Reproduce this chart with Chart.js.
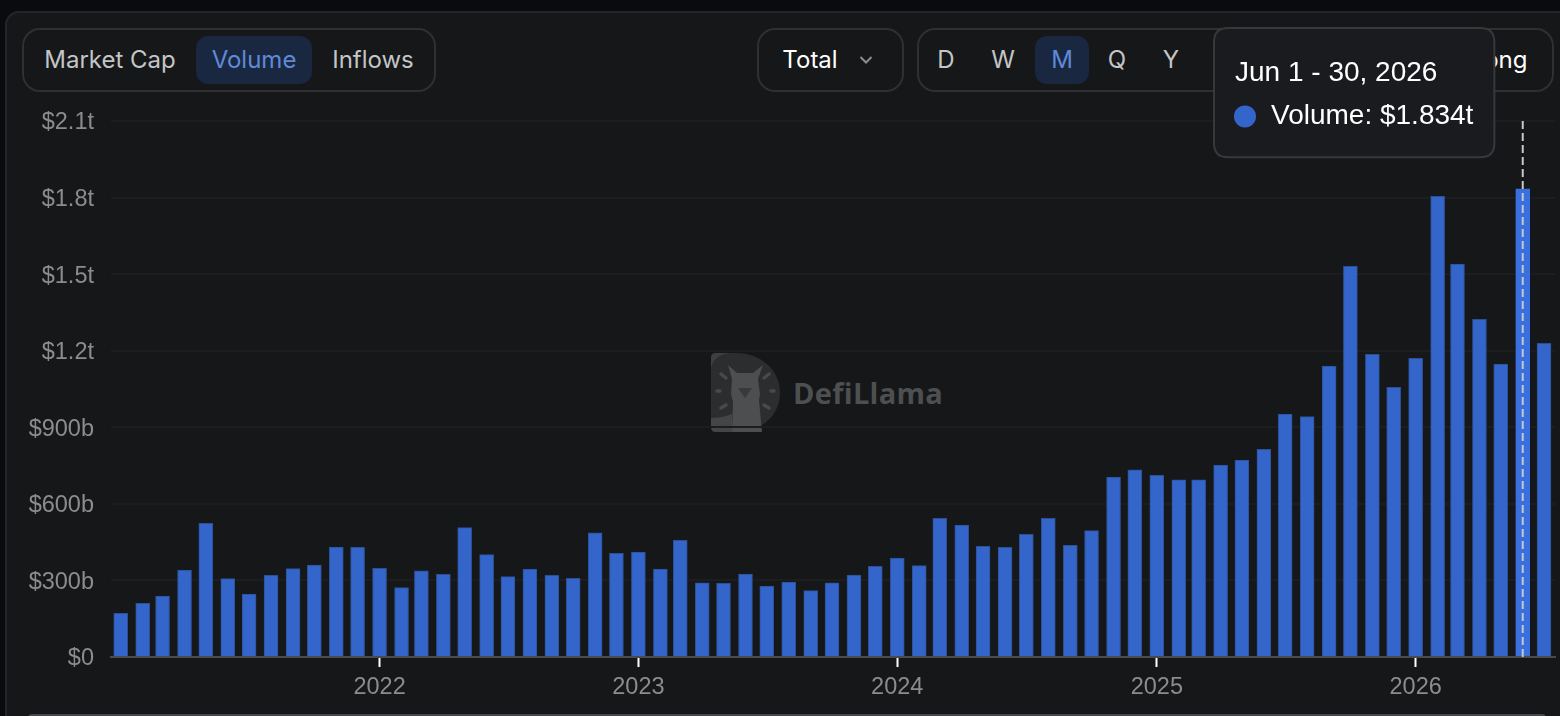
<!DOCTYPE html>
<html>
<head>
<meta charset="utf-8">
<title>Volume</title>
<script src="https://cdn.jsdelivr.net/npm/chart.js@4/dist/chart.umd.min.js"></script>
<style>
  html, body { margin: 0; padding: 0; background: #0a0b0e; }
  body { position: relative; width: 1560px; height: 716px; overflow: hidden; font-family: Inter, sans-serif; }
  .card { position: absolute; left: 5px; top: 11px; width: 1600px; height: 800px; background: #151719; border: 2px solid #232528; border-radius: 14px; box-sizing: border-box; }
  .footerEdge { position: absolute; left: 28px; top: 714px; width: 1518px; height: 4px; background: #45474a; border-radius: 4px 4px 0 0; }
  .box { position: absolute; top: 28px; height: 64px; border: 2px solid #2e3033; border-radius: 18px; box-sizing: border-box; }
  .pill { position: absolute; top: 36px; height: 48px; background: #1a2740; border-radius: 12px; }
  .lbl { position: absolute; top: 36px; height: 48px; line-height: 48px; font-size: 24px; color: #c4c5c6; transform: translateX(-50%); white-space: nowrap; }
  .lbl.on { color: #5f8ad8; }
  .lbl.strong { color: #ffffff; font-weight: 400; }
  .chev { position: absolute; left: 859px; top: 55px; }
  .mark { position: absolute; left: 710px; top: 352px; }
  .markText { position: absolute; left: 793px; top: 375px; font: 700 29px/36px "Open Sans", sans-serif; color: #4d4f51; letter-spacing: 0.3px; }
  canvas { position: absolute; left: 0; top: 0; }
</style>
</head>
<body>
  <div class="card"></div>
  <div class="footerEdge"></div>

  <div class="box" style="left:22px;width:414px"></div>
  <div class="pill" style="left:196px;width:116px"></div>
  <span class="lbl" style="left:110px">Market Cap</span>
  <span class="lbl on" style="left:254px">Volume</span>
  <span class="lbl" style="left:373px">Inflows</span>

  <div class="box" style="left:757px;width:147px"></div>
  <span class="lbl strong" style="left:810px">Total</span>
  <svg class="chev" width="14" height="10" viewBox="0 0 14 10"><path d="M1.5 2 L7 7.5 L12.5 2" fill="none" stroke="#8c8d8e" stroke-width="2"/></svg>

  <div class="box" style="left:917px;width:637px"></div>
  <div class="pill" style="left:1035px;width:54px"></div>
  <span class="lbl" style="left:946px">D</span>
  <span class="lbl" style="left:1003px">W</span>
  <span class="lbl on" style="left:1062px">M</span>
  <span class="lbl" style="left:1117px">Q</span>
  <span class="lbl" style="left:1171px">Y</span>
  <span class="lbl strong" style="left:1499px">Long</span>

  <svg class="mark" width="72" height="82" viewBox="0 0 72 82">
    <path d="M6 1 H26 C52 1 70 19 70 41 C70 63 52 80 26 80 H6 Q1 80 1 75 V6 Q1 1 6 1 Z" fill="#2b2d2f"/>
    <path d="M1 16 Q4 2 22 1 H6 Q1 1 1 6 Z" fill="#3d3f41"/>
    <path d="M1 66 Q12 66 22 62 V80 H6 Q1 80 1 75 Z" fill="#434547"/>
    <path d="M18 13 L27 21 H43 L53 13 L48 27 L50 42 L49 48 L52 80 H22 L23 50 L21 42 L22 27 Z" fill="#4c4e50"/>
    <path d="M28 36 H42 L35 46 Z" fill="#38393b"/>
    <g stroke="#48494b" stroke-width="3.5" stroke-linecap="round">
      <path d="M11 22 L16 26"/><path d="M59 22 L54 26"/>
      <path d="M7 39 H10"/><path d="M61 39 H64"/>
      <path d="M11 56 L16 53"/><path d="M59 56 L54 53"/>
    </g>
  </svg>
  <div class="markText">DefiLlama</div>

  <canvas id="graficoVolumen" width="1560" height="716"></canvas>

  <script>
    // volumen mensual en miles de millones, ene 2021 a jul 2026
    const meses = [
      "2021-01", "2021-02", "2021-03", "2021-04", "2021-05", "2021-06", "2021-07", "2021-08", "2021-09", "2021-10", "2021-11", "2021-12",
      "2022-01", "2022-02", "2022-03", "2022-04", "2022-05", "2022-06", "2022-07", "2022-08", "2022-09", "2022-10", "2022-11", "2022-12",
      "2023-01", "2023-02", "2023-03", "2023-04", "2023-05", "2023-06", "2023-07", "2023-08", "2023-09", "2023-10", "2023-11", "2023-12",
      "2024-01", "2024-02", "2024-03", "2024-04", "2024-05", "2024-06", "2024-07", "2024-08", "2024-09", "2024-10", "2024-11", "2024-12",
      "2025-01", "2025-02", "2025-03", "2025-04", "2025-05", "2025-06", "2025-07", "2025-08", "2025-09", "2025-10", "2025-11", "2025-12",
      "2026-01", "2026-02", "2026-03", "2026-04", "2026-05", "2026-06", "2026-07"
    ];
    const volumen = [
      171, 210, 239, 341, 524, 307, 247, 320, 346, 360, 431, 430,
      347, 272, 338, 324, 507, 401, 315, 344, 320, 308, 486, 406,
      411, 344, 457, 291, 289, 325, 278, 294, 260, 291, 321, 355,
      388, 358, 543, 517, 434, 430, 481, 543, 438, 495, 705, 733,
      712, 694, 694, 752, 772, 814, 952, 942, 1140, 1531, 1186, 1057,
      1170, 1805, 1539, 1323, 1148, 1834, 1229
    ];
    const etiquetasY = ["$0", "$300b", "$600b", "$900b", "$1.2t", "$1.5t", "$1.8t", "$2.1t"];
    const anios = [2022, 2023, 2024, 2025, 2026];
    const mesActivo = "2026-06";
    const tituloActivo = "Jun 1 - 30, 2026";

    const aFecha = (mes) => {
      const [anio, m] = mes.split("-").map(Number);
      return Date.UTC(anio, m - 1, 1);
    };
    const indiceActivo = meses.indexOf(mesActivo);

    // posición fija de la caja de detalle, arriba a la derecha
    Chart.Tooltip.positioners.fijo = () => ({ x: 1228, y: 28 });

    // línea punteada vertical sobre el mes activo
    const lineaActiva = {
      id: "lineaActiva",
      afterDatasetsDraw(chart) {
        const { ctx, chartArea, scales } = chart;
        const x = scales.x.getPixelForValue(aFecha(mesActivo));
        ctx.save();
        ctx.strokeStyle = "#c6c7c9";
        ctx.lineWidth = 2;
        ctx.setLineDash([8, 4]);
        ctx.beginPath();
        ctx.moveTo(x, chartArea.top);
        ctx.lineTo(x, chartArea.bottom);
        ctx.stroke();
        ctx.restore();
      }
    };

    const grafico = new Chart(document.getElementById("graficoVolumen"), {
      type: "bar",
      plugins: [lineaActiva],
      data: {
        datasets: [{
          label: "Volume",
          data: meses.map((mes, i) => ({ x: aFecha(mes), y: volumen[i] })),
          backgroundColor: meses.map((_, i) => i === indiceActivo ? "#3a6fdf" : "#3465cb"),
          borderColor: meses.map((_, i) => i === indiceActivo ? "#3a6fdf" : "#2d5095"),
          borderWidth: 1,
          barThickness: 14
        }]
      },
      options: {
        responsive: false,
        animation: false,
        events: [],
        layout: { padding: { left: 0, right: 5, top: 121, bottom: 0 } },
        plugins: {
          legend: { display: false },
          tooltip: {
            position: "fijo",
            xAlign: "left",
            yAlign: "top",
            caretSize: 0,
            caretPadding: 0,
            backgroundColor: "#1a1b1e",
            borderColor: "#36383b",
            borderWidth: 2,
            cornerRadius: 14,
            padding: { left: 21, right: 21, top: 28, bottom: 24 },
            titleColor: "#ffffff",
            bodyColor: "#ffffff",
            titleFont: { family: "Liberation Sans", size: 28, weight: "normal" },
            bodyFont: { family: "Liberation Sans", size: 28 },
            titleMarginBottom: 10,
            usePointStyle: true,
            boxWidth: 20,
            boxHeight: 20,
            boxPadding: 14,
            multiKeyBackground: "transparent",
            callbacks: {
              title: () => tituloActivo,
              label: (item) => `Volume: $${(item.parsed.y / 1000).toFixed(3)}t`,
              labelPointStyle: () => ({ pointStyle: "circle", rotation: 0 }),
              labelColor: () => ({ borderColor: "#3465cb", backgroundColor: "#3465cb" })
            }
          }
        },
        scales: {
          x: {
            type: "linear",
            offset: false,
            min: Date.UTC(2020, 11, 18, 7),
            max: Date.UTC(2026, 6, 16, 12),
            afterBuildTicks: (escala) => {
              escala.ticks = anios.map((anio) => ({ value: Date.UTC(anio, 0, 1) }));
            },
            afterFit: (escala) => { escala.height = 59; },
            border: { color: "#4a4b4c", width: 2 },
            grid: { offset: false, drawOnChartArea: false, tickColor: "#ffffff", tickWidth: 2, tickLength: 10 },
            ticks: {
              autoSkip: false,
              maxRotation: 0,
              padding: 6,
              color: "#8b8c8d",
              font: { family: "Liberation Sans", size: 23.5 },
              callback: (valor) => new Date(valor).getUTCFullYear()
            }
          },
          y: {
            min: 0,
            max: 2100,
            afterFit: (escala) => { escala.width = 111; },
            border: { display: false },
            grid: { color: "#1b1d1f", lineWidth: 2, drawTicks: false },
            ticks: {
              stepSize: 300,
              padding: 17,
              labelOffset: 2,
              color: "#8b8c8d",
              font: { family: "Liberation Sans", size: 23.5 },
              callback: (valor) => etiquetasY[valor / 300]
            }
          }
        }
      }
    });

    grafico.tooltip.setActiveElements([{ datasetIndex: 0, index: indiceActivo }], { x: 0, y: 0 });
    grafico.update();
  </script>
</body>
</html>
